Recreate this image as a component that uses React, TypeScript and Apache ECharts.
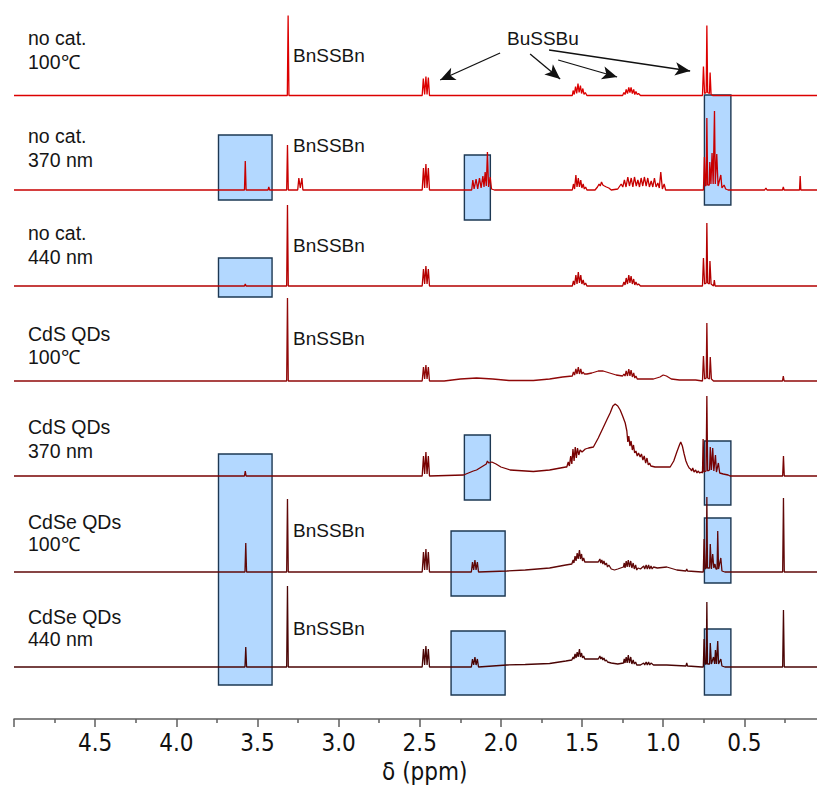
import React, { useEffect, useRef } from "react";
import * as echarts from "echarts";

// ---- data: each trace is a list of [ppm, intensity] points ----
const T1: number[][] = [
  [5.0, 0], [3.316, 0], [3.311, 80], [3.306, 0],
  [2.485, 0], [2.478, 17], [2.47, 1], [2.462, 19], [2.455, 1], [2.447, 18], [2.44, 0],
  [1.56, 0], [1.555, 5], [1.548, 1], [1.54, 9], [1.533, 2], [1.525, 12], [1.518, 3], [1.51, 10], [1.503, 2], [1.495, 7], [1.488, 1], [1.48, 3], [1.47, 0],
  [1.25, 0], [1.242, 3], [1.235, 1], [1.228, 6], [1.22, 2], [1.212, 8], [1.205, 3], [1.198, 8], [1.19, 2], [1.182, 6], [1.175, 1], [1.168, 4], [1.16, 1], [1.152, 2], [1.14, 0],
  [0.758, 0], [0.752, 29], [0.745, 2], [0.735, 3], [0.731, 70], [0.726, 3], [0.715, 2], [0.711, 23], [0.705, 1], [0.695, 0], [0, 0],
];
const T2: number[][] = [
  [5.0, 0], [3.58, 0], [3.575, 29], [3.57, 0], [3.435, 0], [3.43, 3], [3.425, 0],
  [3.32, 0], [3.315, 45], [3.31, 0], [3.252, 0], [3.245, 12], [3.236, 2], [3.226, 12], [3.22, 0],
  [2.485, 0], [2.477, 22], [2.47, 2], [2.462, 26], [2.455, 2], [2.447, 22], [2.44, 0],
  [2.18, 0], [2.173, 10], [2.165, 1], [2.153, 11], [2.143, 1], [2.132, 12], [2.122, 2], [2.111, 14], [2.104, 3], [2.097, 18], [2.09, 4], [2.083, 38], [2.076, 3], [2.066, 13], [2.058, 1], [2.04, 0],
  [1.56, 0], [1.553, 6], [1.546, 1], [1.538, 15], [1.531, 3], [1.523, 12], [1.516, 3], [1.508, 10], [1.501, 2], [1.493, 6], [1.486, 1], [1.478, 3], [1.47, 0],
  [1.42, 0], [1.405, 3], [1.395, 6], [1.388, 4], [1.38, 8], [1.372, 5], [1.362, 4], [1.35, 3], [1.335, 2], [1.32, 0],
  [1.28, 1], [1.259, 6], [1.249, 3], [1.239, 10], [1.229, 3], [1.218, 13], [1.208, 4], [1.197, 12], [1.187, 3], [1.177, 13], [1.166, 4], [1.156, 10], [1.146, 3], [1.136, 12], [1.126, 4], [1.116, 13], [1.105, 4], [1.095, 12], [1.085, 3], [1.074, 9], [1.064, 3], [1.054, 12], [1.044, 3], [1.033, 7], [1.024, 2], [1.015, 18], [1.005, 1], [0.994, 6], [0.985, 0],
  [0.752, 0], [0.746, 33], [0.74, 4], [0.735, 5], [0.731, 72], [0.726, 5], [0.716, 5], [0.713, 28], [0.706, 6], [0.699, 37], [0.692, 6], [0.688, 6], [0.684, 79], [0.679, 6], [0.67, 36], [0.662, 4], [0.645, 15], [0.638, 2], [0.625, 5], [0.615, 1], [0.6, 0],
  [0.375, 0], [0.367, 2], [0.36, 0], [0.265, 0], [0.26, 3], [0.255, 0], [0.16, 0], [0.156, 14], [0.152, 0], [0, 0],
];
const T3: number[][] = [
  [5.0, 0], [3.58, 0], [3.575, 2], [3.57, 0], [3.32, 0], [3.315, 81], [3.31, 0],
  [2.485, 0], [2.477, 17], [2.47, 2], [2.462, 20], [2.455, 2], [2.447, 17], [2.44, 0],
  [1.56, 0], [1.553, 5], [1.546, 1], [1.538, 11], [1.531, 2], [1.523, 14], [1.516, 3], [1.508, 11], [1.501, 2], [1.493, 6], [1.486, 1], [1.478, 3], [1.47, 0],
  [1.25, 0], [1.242, 4], [1.235, 1], [1.228, 8], [1.22, 2], [1.212, 11], [1.205, 3], [1.198, 10], [1.19, 2], [1.182, 7], [1.175, 1], [1.168, 4], [1.16, 1], [1.152, 2], [1.14, 0],
  [0.758, 0], [0.752, 28], [0.745, 2], [0.735, 3], [0.731, 63], [0.726, 3], [0.716, 2], [0.712, 25], [0.705, 2], [0.69, 0], [0.685, 6], [0.68, 0], [0, 0],
];
const T4: number[][] = [
  [5.0, 0], [3.32, 0], [3.315, 83], [3.31, 0],
  [2.485, 0], [2.477, 14], [2.47, 2], [2.462, 16], [2.455, 2], [2.447, 14], [2.44, 0],
  [2.35, 0], [2.25, 2], [2.15, 3], [2.05, 2], [1.95, 0.5], [1.8, 0.5], [1.7, 2], [1.62, 4],
  [1.56, 5], [1.553, 9], [1.546, 6], [1.538, 12], [1.531, 7], [1.523, 14], [1.516, 7], [1.508, 12], [1.501, 7], [1.493, 9], [1.486, 7], [1.47, 7], [1.44, 8], [1.4, 10], [1.37, 10], [1.33, 8], [1.29, 6],
  [1.25, 5], [1.242, 7], [1.235, 5], [1.228, 10], [1.22, 5], [1.212, 12], [1.205, 5], [1.198, 11], [1.19, 4], [1.182, 8], [1.175, 3], [1.168, 5], [1.16, 2], [1.13, 2], [1.06, 2], [1.02, 4], [1.0, 6], [0.98, 5], [0.95, 2], [0.9, 1], [0.8, 1],
  [0.758, 0], [0.752, 25], [0.745, 2], [0.735, 3], [0.731, 58], [0.726, 3], [0.715, 2], [0.71, 24], [0.703, 2], [0.69, 0], [0.265, 0], [0.26, 5], [0.255, 0], [0, 0],
];
const T5: number[][] = [
  [5.0, 0], [3.58, 0], [3.575, 5], [3.57, 0],
  [2.485, 0], [2.477, 20], [2.47, 2], [2.462, 24], [2.455, 2], [2.447, 20], [2.44, 0],
  [2.23, 1], [2.2, 3], [2.17, 5], [2.15, 6], [2.13, 8], [2.11, 10], [2.09, 12], [2.083, 15], [2.075, 13], [2.056, 14], [2.03, 12], [2.0, 9], [1.943, 6], [1.8, 4.5], [1.7, 6], [1.6, 9],
  [1.594, 9], [1.585, 14], [1.578, 10], [1.57, 20], [1.563, 12], [1.556, 27], [1.549, 15], [1.542, 29], [1.535, 18], [1.528, 28], [1.52, 21], [1.512, 26], [1.5, 24], [1.48, 27], [1.46, 28], [1.43, 29],
  [1.4, 38], [1.368, 49], [1.345, 57], [1.327, 63], [1.31, 70], [1.296, 72], [1.28, 70], [1.265, 66], [1.25, 60], [1.234, 53],
  [1.224, 45], [1.218, 34], [1.212, 40], [1.205, 30], [1.198, 35], [1.19, 26], [1.183, 31], [1.176, 23], [1.168, 25], [1.16, 20], [1.152, 23], [1.142, 19], [1.134, 22], [1.125, 16], [1.117, 20], [1.108, 13], [1.1, 18], [1.092, 11], [1.084, 13], [1.076, 10], [1.05, 9], [1.0, 9], [0.957, 9],
  [0.935, 15], [0.916, 24], [0.9, 31], [0.892, 34], [0.882, 30], [0.871, 22], [0.86, 15], [0.85, 11], [0.84, 8], [0.832, 7], [0.825, 5], [0.818, 8], [0.81, 4], [0.8, 6], [0.792, 3], [0.785, 5], [0.775, 3], [0.765, 4], [0.758, 3],
  [0.754, 37], [0.749, 4], [0.736, 5], [0.731, 80], [0.726, 5], [0.714, 6], [0.71, 29], [0.703, 6], [0.695, 28], [0.688, 5], [0.678, 21], [0.672, 4], [0.66, 13], [0.652, 3], [0.63, 2], [0.6, 1], [0.588, 0],
  [0.264, 0], [0.259, 20], [0.254, 0], [0, 0],
];
const T6: number[][] = [
  [5.0, 0], [3.577, 0], [3.572, 29], [3.567, 0], [3.32, 0], [3.315, 73], [3.31, 0],
  [2.485, 0], [2.477, 20], [2.47, 2], [2.462, 23], [2.455, 2], [2.447, 20], [2.44, 0],
  [2.182, 0], [2.175, 10], [2.168, 2], [2.16, 12], [2.153, 2], [2.145, 10], [2.138, 0],
  [1.964, 1], [1.85, 2], [1.7, 4], [1.6, 7], [1.563, 8],
  [1.555, 12], [1.55, 9], [1.543, 16], [1.537, 11], [1.53, 19], [1.524, 13], [1.516, 22], [1.51, 13], [1.503, 18], [1.497, 11], [1.49, 14], [1.483, 10], [1.47, 10], [1.42, 10], [1.4, 10],
  [1.39, 13], [1.385, 9], [1.378, 12], [1.372, 8], [1.365, 11], [1.358, 7], [1.35, 9], [1.343, 5], [1.335, 7], [1.32, 3], [1.3, 2], [1.28, 3],
  [1.245, 5], [1.24, 9], [1.235, 4], [1.228, 11], [1.222, 5], [1.215, 12], [1.208, 5], [1.2, 11], [1.193, 4], [1.185, 9], [1.178, 3], [1.17, 7], [1.163, 2], [1.155, 4],
  [1.14, 3], [1.12, 6], [1.114, 3], [1.105, 7], [1.098, 3], [1.09, 7], [1.083, 3], [1.075, 6], [1.068, 3], [1.06, 5], [1.036, 4], [0.978, 5], [0.916, 2], [0.86, 1], [0.855, 3], [0.85, 1], [0.762, 0],
  [0.753, 0], [0.748, 33], [0.742, 3], [0.735, 4], [0.731, 75], [0.727, 4], [0.714, 4], [0.71, 28], [0.703, 3], [0.695, 18], [0.688, 4], [0.681, 8], [0.675, 3], [0.668, 3], [0.664, 41], [0.659, 3], [0.645, 14], [0.638, 1], [0.62, 0],
  [0.264, 0], [0.259, 74], [0.254, 0], [0, 0],
];
const T7: number[][] = [
  [5.0, 0], [3.577, 0], [3.572, 20], [3.567, 0], [3.32, 0], [3.315, 81], [3.31, 0],
  [2.485, 0], [2.477, 18], [2.47, 2], [2.462, 21], [2.455, 2], [2.447, 18], [2.44, 0],
  [2.182, 0], [2.175, 8], [2.168, 2], [2.16, 10], [2.153, 2], [2.145, 8], [2.138, 0],
  [1.964, 2], [1.85, 2.5], [1.7, 3.5], [1.6, 6], [1.563, 7],
  [1.555, 10], [1.55, 8], [1.543, 13], [1.537, 9], [1.53, 15], [1.524, 10], [1.516, 18], [1.51, 10], [1.503, 14], [1.497, 9], [1.49, 11], [1.483, 8], [1.42, 8], [1.4, 8],
  [1.39, 11], [1.385, 8], [1.378, 10], [1.372, 7], [1.365, 9], [1.358, 6], [1.35, 7], [1.343, 5], [1.32, 4], [1.28, 3],
  [1.245, 4], [1.24, 8], [1.235, 4], [1.228, 10], [1.222, 4], [1.215, 12], [1.208, 4], [1.2, 10], [1.193, 3], [1.185, 7], [1.178, 3], [1.17, 5], [1.163, 2],
  [1.14, 2], [1.12, 4], [1.114, 2], [1.105, 5], [1.098, 2], [1.09, 5], [1.083, 2], [1.075, 4], [1.06, 2], [0.978, 2], [0.86, 1], [0.855, 4], [0.85, 1], [0.762, 0],
  [0.753, 0], [0.748, 28], [0.742, 3], [0.735, 3], [0.731, 65], [0.727, 3], [0.714, 3], [0.71, 24], [0.703, 3], [0.69, 10], [0.683, 3], [0.678, 17], [0.672, 3], [0.668, 3], [0.664, 26], [0.659, 3], [0.645, 8], [0.638, 1], [0.62, 0],
  [0.264, 0], [0.259, 57], [0.254, 0], [0, 0],
];

const TRACES = [T1, T2, T3, T4, T5, T6, T7];
const TRACE_NAMES = ["no cat. 100℃", "no cat. 370 nm", "no cat. 440 nm", "CdS QDs 100℃", "CdS QDs 370 nm", "CdSe QDs 100℃", "CdSe QDs 440 nm"];
const OFFSETS = [623.5, 529, 433, 338, 243, 147, 52];
const COLORS = ["#dc0000", "#c80000", "#b40000", "#900808", "#780202", "#600808", "#4a0404"];

// [ppm high, ppm low, top value, bottom value]
const BOXES: number[][] = [
  [3.74, 3.41, 584, 519],
  [2.225, 2.065, 564, 499],
  [0.746, 0.583, 624, 514],
  [3.74, 3.41, 461, 422],
  [2.225, 2.065, 284, 219],
  [0.746, 0.583, 278, 214],
  [3.74, 3.41, 265, 34],
  [2.307, 1.974, 188, 123],
  [0.746, 0.583, 201, 136],
  [2.307, 1.974, 88, 24],
  [0.746, 0.583, 90, 24],
];
// [ppm start, value start, ppm end, value end]
const ARROWS: number[][] = [
  [2.005, 666, 2.374, 639],
  [1.82, 665, 1.635, 640],
  [1.647, 659, 1.284, 642],
  [1.703, 669, 0.834, 648],
];

const LEFT_LABELS: [string, number][] = [
  ["no cat.", 38], ["100℃", 62],
  ["no cat.", 136], ["370 nm", 160],
  ["no cat.", 233], ["440 nm", 257],
  ["CdS QDs", 334], ["100℃", 357],
  ["CdS QDs", 427], ["370 nm", 451],
  ["CdSe QDs", 522], ["100℃", 544],
  ["CdSe QDs", 617], ["440 nm", 639],
];
const BN_LABEL_Y = [55, 145, 245, 338, 530, 628];

export default function App() {
  const ref = useRef<HTMLDivElement>(null);
  useEffect(() => {
    if (!ref.current) return;
    const chart = echarts.init(ref.current, undefined, { renderer: "svg" });
    const textFont = "'Liberation Sans', Arial, sans-serif";
    const series: any[] = TRACES.map((t, i) => ({
      name: TRACE_NAMES[i],
      type: "line",
      data: t.map(([x, y]) => [x, OFFSETS[i] + y]),
      showSymbol: false,
      symbol: "none",
      lineStyle: { color: COLORS[i], width: 1.3 },
      z: 2,
    }));
    series.push({
      type: "line",
      data: [[5, -20]],
      showSymbol: false,
      symbol: "none",
      lineStyle: { opacity: 0 },
      z: 5,
      silent: true,
      markArea: {
        silent: true,
        itemStyle: { color: "rgba(120,186,255,0.56)", borderColor: "#1d3853", borderWidth: 1.4 },
        data: BOXES.map((b) => [{ coord: [b[0], b[2]] }, { coord: [b[1], b[3]] }]),
      },
      markLine: {
        silent: true,
        symbol: ["none", "arrow"],
        symbolSize: [10, 15],
        label: { show: false },
        lineStyle: { color: "#111", width: 1.3, type: "solid" },
        data: ARROWS.map((a) => [{ coord: [a[0], a[1]] }, { coord: [a[2], a[3]] }]),
      },
    });
    const graphics: any[] = [];
    LEFT_LABELS.forEach(([t, y]) => {
      graphics.push({
        type: "text", x: 28, y,
        style: { text: t, font: `19.5px ${textFont}`, fill: "#151515", verticalAlign: "middle", align: "left" },
      });
    });
    BN_LABEL_Y.forEach((y) => {
      graphics.push({
        type: "text", x: 293, y,
        style: { text: "BnSSBn", font: `19px ${textFont}`, fill: "#151515", verticalAlign: "middle", align: "left" },
      });
    });
    graphics.push({
      type: "text", x: 507, y: 38,
      style: { text: "BuSSBu", font: `19px ${textFont}`, fill: "#151515", verticalAlign: "middle", align: "left" },
    });
    const axisColor = "#5e5e5e";
    const axisFont = "'DejaVu Sans Condensed', 'DejaVu Sans', sans-serif";
    chart.setOption({
      animation: false,
      backgroundColor: "#ffffff",
      grid: { left: 14, width: 811.5, top: 0, height: 719, containLabel: false, outerBoundsMode: "none" },
      xAxis: {
        type: "value", min: 0, max: 5, interval: 0.5, inverse: true,
        axisLine: { show: true, lineStyle: { color: axisColor, width: 1.5 } },
        axisTick: { show: true, length: 8, lineStyle: { color: axisColor, width: 1.5 } },
        minorTick: { show: true, splitNumber: 2, length: 4, lineStyle: { color: axisColor, width: 1.5 } },
        splitLine: { show: false },
        axisLabel: {
          fontSize: 24, color: "#111", fontFamily: axisFont, margin: 12,
          formatter: (v: number) => (v > 4.99 || v < 0.01 ? "" : v.toFixed(1)),
        },
        name: "δ (ppm)", nameLocation: "middle", nameGap: 40,
        nameTextStyle: { fontSize: 24, color: "#111", fontFamily: axisFont, padding: [0, 0, 0, 10] },
      },
      yAxis: { type: "value", min: 0, max: 719, show: false },
      series,
      graphic: graphics,
    });
    return () => chart.dispose();
  }, []);
  return <div ref={ref} style={{ position: "fixed", left: 0, top: 0, width: 817, height: 789 }} />;
}
